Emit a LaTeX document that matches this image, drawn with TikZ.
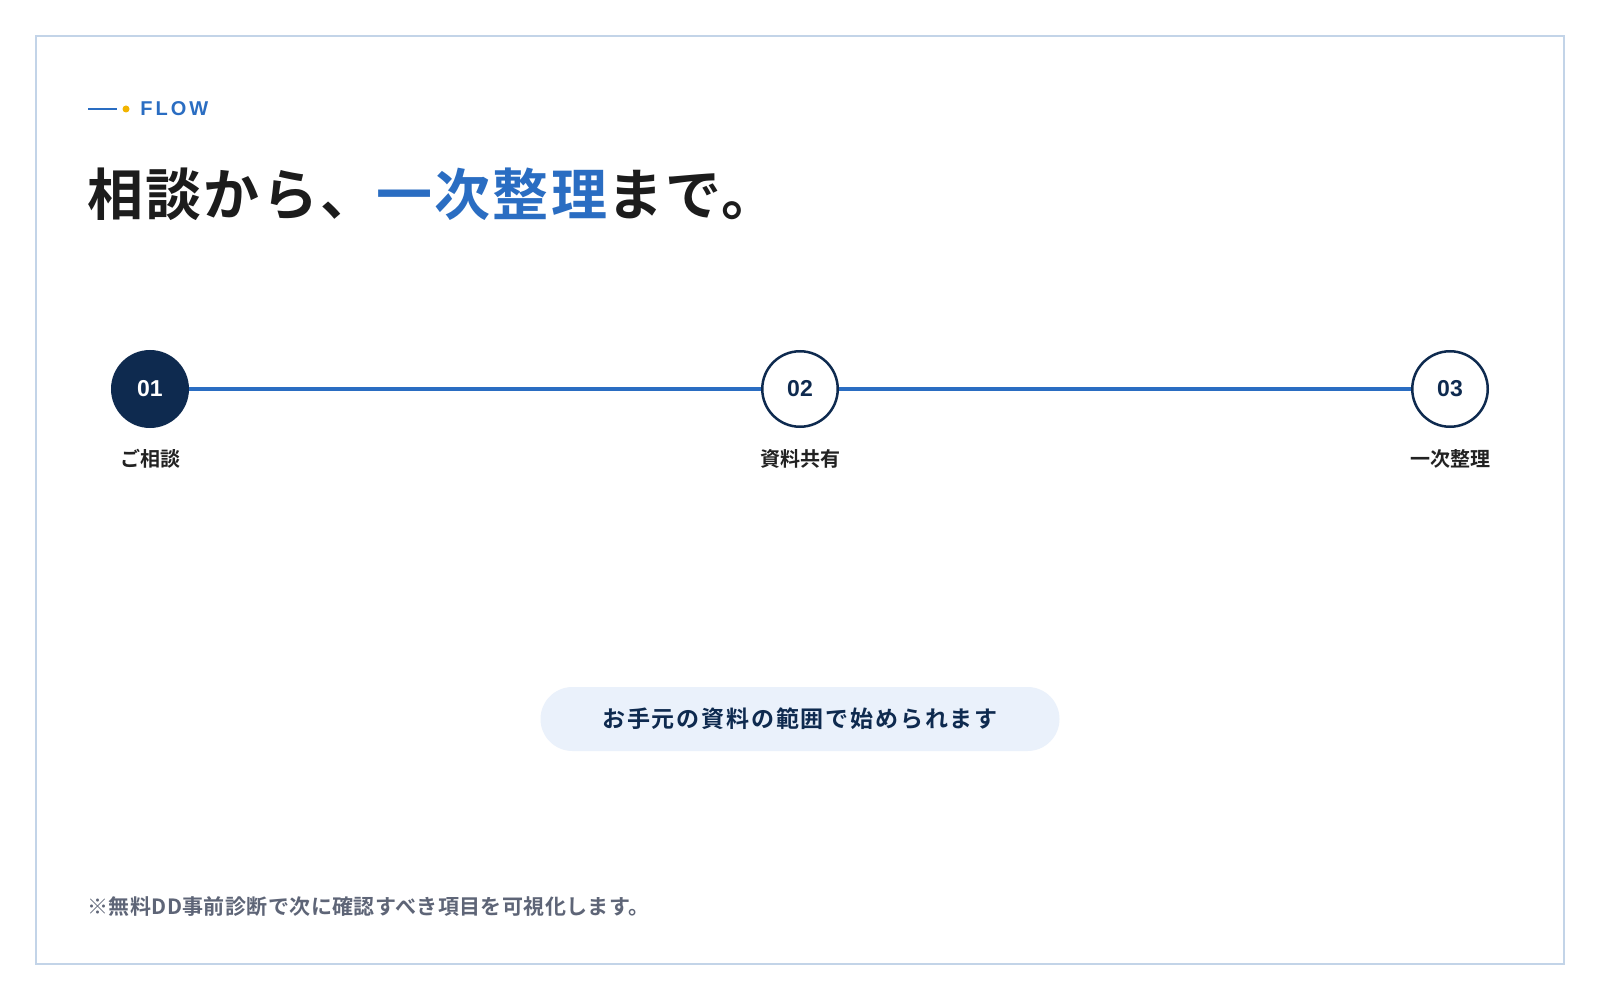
\documentclass[tikz,border=0pt]{standalone}
\usepackage{fontspec}
\setmainfont{Liberation Sans}
\newfontfamily\jpfont[BoldFont={Noto Sans CJK JP Bold}]{Noto Sans CJK JP}
\usepackage{tikz}
\usetikzlibrary{positioning}

\definecolor{navy}{HTML}{0E2A4F}
\definecolor{flowblue}{HTML}{2A6DC2}
\definecolor{framegray}{HTML}{C3D4E8}
\definecolor{accent}{HTML}{F2B400}
\definecolor{pillfill}{HTML}{EAF1FB}
\definecolor{notegray}{HTML}{5E6577}
\definecolor{inkblack}{HTML}{1C1C1C}
\definecolor{labelink}{HTML}{222222}

\begin{document}
\begin{tikzpicture}[x=0.5pt, y=-0.5pt,
    stepnode/.style={circle, draw=navy, line width=1.25pt, fill=white,
        minimum size=37.75pt, inner sep=0pt, text=navy,
        font=\bfseries\fontsize{11.5}{12}\selectfont},
    steplabel/.style={inner sep=0pt, text=labelink,
        font=\jpfont\bfseries\fontsize{10}{12}\selectfont},
    timeline/.style={draw=flowblue, line width=2pt},
    pill/.style={fill=pillfill, rounded corners=16pt, minimum width=259.5pt,
        minimum height=32pt, inner sep=0pt, text=navy,
        font=\jpfont\bfseries\fontsize{11.5}{14}\selectfont\addfontfeatures{LetterSpace=8}}
    ]

    % Page and frame
    \useasboundingbox (0,0) rectangle (1600,1000);
    \fill[white] (0,0) rectangle (1600,1000);
    \draw[framegray, line width=1pt] (36,36) rectangle (1564,964);

    % Eyebrow
    \coordinate (eyeL) at (88,109);
    \coordinate (eyeR) at (117,109);
    \draw[flowblue, line width=1pt] (eyeL) -- (eyeR);
    \fill[accent] (126,109) circle (1.75pt);
    \node[anchor=west, inner sep=0pt, text=flowblue,
        font=\bfseries\fontsize{10}{12}\selectfont\addfontfeatures{LetterSpace=15}]
        (eyebrow) at (140,109) {FLOW};

    % Heading
    \node[anchor=west, inner sep=0pt, text=inkblack,
        font=\jpfont\bfseries\fontsize{28}{32}\selectfont\addfontfeatures{LetterSpace=4}]
        (heading) at (87,194) {相談から、\textcolor{flowblue}{一次整理}まで。};

    % Steps
    \node[stepnode, fill=navy, text=white] (s1) at (150,389) {01};
    \node[stepnode] (s2) at (800,389) {02};
    \node[stepnode] (s3) at (1450,389) {03};

    \draw[timeline] (s1) -- (s2);
    \draw[timeline] (s2) -- (s3);

    \node[steplabel, below=10.5pt of s1] (l1) {ご相談};
    \node[steplabel, below=10.5pt of s2] (l2) {資料共有};
    \node[steplabel, below=10.5pt of s3] (l3) {一次整理};

    % Note pill
    \node[pill] (scope) at (800,719) {お手元の資料の範囲で始められます};

    % Footnote
    \node[anchor=west, inner sep=0pt, text=notegray,
        font=\jpfont\bfseries\fontsize{10.5}{12}\selectfont\addfontfeatures{LetterSpace=2}]
        (footnote) at (87,907) {※無料DD事前診断で次に確認すべき項目を可視化します。};
\end{tikzpicture}
\end{document}
